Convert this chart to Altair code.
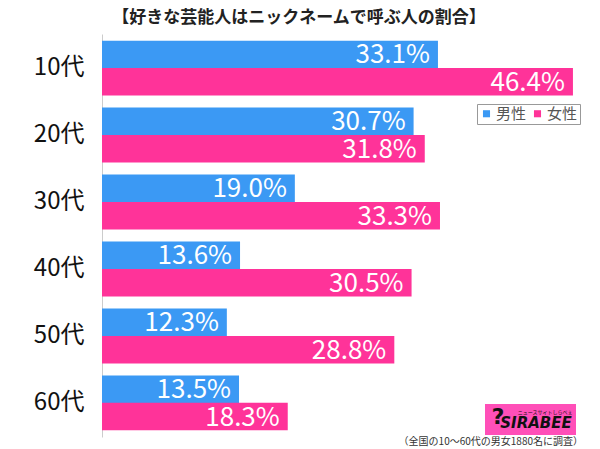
import altair as alt
import pandas as pd

ages = ["10代", "20代", "30代", "40代", "50代", "60代"]
male = [33.1, 30.7, 19.0, 13.6, 12.3, 13.5]
female = [46.4, 31.8, 33.3, 30.5, 28.8, 18.3]
genders = ["男性", "女性"]
colors = ["#3b99f4", "#ff3399"]
title_text = "【好きな芸能人はニックネームで呼ぶ人の割合】"
note_text = "（全国の10～60代の男女1880名に調査）"

rows = []
for a, m, f in zip(ages, male, female):
    rows.append({"age": a, "gender": "男性", "value": m})
    rows.append({"age": a, "gender": "女性", "value": f})
df = pd.DataFrame(rows)

FONT = "Noto Sans CJK JP"

y_enc = alt.Y("age:N", sort=ages, scale=alt.Scale(paddingInner=0.18, paddingOuter=0.1),
              axis=alt.Axis(title=None, ticks=False, labelFontSize=24, labelColor="#111",
                            labelFont=FONT, labelPadding=18, domainColor="#cccccc",
                            domainWidth=1, grid=False))
x_enc = alt.X("value:Q", scale=alt.Scale(domain=[0, 48.08], nice=False), axis=None)
yoff = alt.YOffset("gender:N", sort=genders, scale=alt.Scale(paddingInner=0, paddingOuter=0))

bars = alt.Chart(df).mark_bar(size=27.5).encode(
    y=y_enc, x=x_enc, yOffset=yoff,
    color=alt.Color("gender:N", sort=genders,
                    scale=alt.Scale(domain=genders, range=colors),
                    legend=alt.Legend(title=None, orient="none", legendX=375, legendY=70,
                                      direction="horizontal", symbolType="square",
                                      symbolSize=50, labelFontSize=15, labelColor="#555",
                                      labelFont=FONT, strokeColor="#999", padding=2,
                                      columnPadding=3, symbolStrokeWidth=0,
                                      labelOffset=2)),
)

labels = alt.Chart(df).transform_calculate(
    label="format(datum.value, '.1f') + '%'"
).mark_text(align="right", baseline="middle", dx=-8, dy=1, fontSize=26, color="white",
            font=FONT).encode(
    y=alt.Y("age:N", sort=ages), x=x_enc, yOffset=yoff, text="label:N"
)

title = alt.Chart(pd.DataFrame({"t": [title_text]})).mark_text(
    fontSize=17, fontWeight="bold", font=FONT, color="#222", baseline="middle"
).encode(x=alt.value(197), y=alt.value(-16), text="t:N")

note = alt.Chart(pd.DataFrame({"t": [note_text]})).mark_text(
    fontSize=10, font=FONT, color="#333", align="right", baseline="middle"
).encode(x=alt.value(481), y=alt.value(408), text="t:N")

logo_rect = alt.Chart(pd.DataFrame({"a": [1]})).mark_rect(color="#ff4fb8").encode(
    x=alt.value(383), x2=alt.value(474), y=alt.value(370), y2=alt.value(401)
)
logo_text = alt.Chart(pd.DataFrame({"t": ["SIRABEE"]})).mark_text(
    fontSize=15, fontWeight="bold", fontStyle="italic", font="DejaVu Sans", color="#111",
    baseline="middle"
).encode(x=alt.value(434), y=alt.value(389), text="t:N")
logo_small = alt.Chart(pd.DataFrame({"t": ["ニュースサイトしらべぇ"]})).mark_text(
    fontSize=5, font=FONT, color="#111", baseline="middle"
).encode(x=alt.value(443), y=alt.value(378), text="t:N")
logo_i = alt.Chart(pd.DataFrame({"t": ["¿"]})).mark_text(
    fontSize=22, fontWeight="bold", font="DejaVu Sans", color="#111", baseline="middle",
    angle=180
).encode(x=alt.value(396), y=alt.value(385), text="t:N")

chart = alt.layer(bars, labels, title, note, logo_rect, logo_text, logo_small, logo_i).properties(
    width=488, height=403,
    autosize=alt.AutoSizeParams(type="none"),
    padding={"left": 94, "top": 26, "right": 2, "bottom": 10},
).configure_view(stroke=None)

chart.save("out.html", embed_options={"renderer": "svg", "actions": False})
